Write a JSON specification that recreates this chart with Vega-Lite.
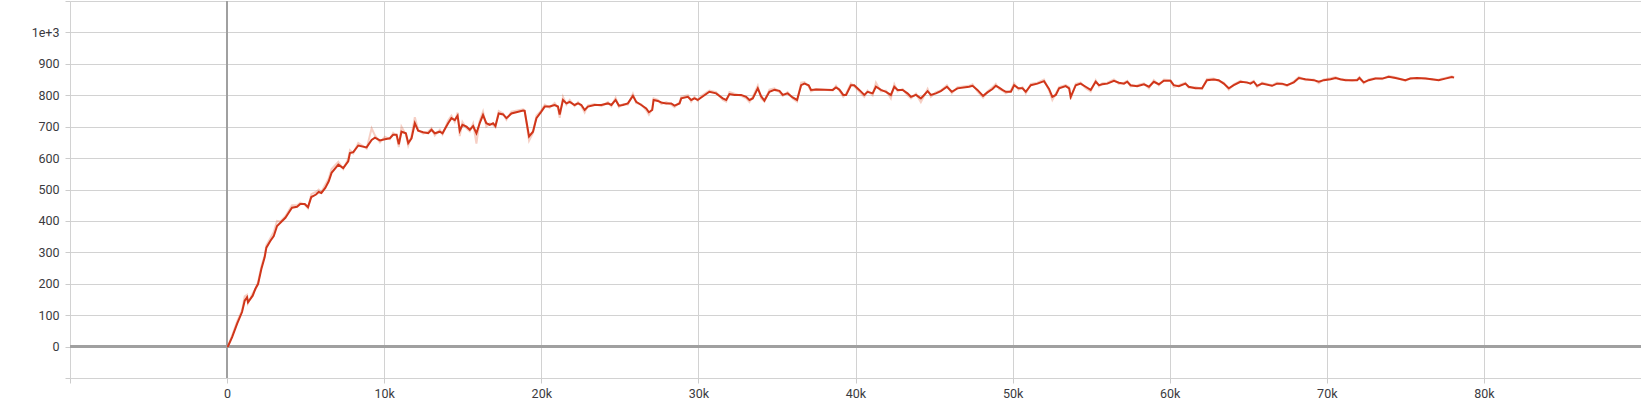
{
  "$schema": "https://vega.github.io/schema/vega-lite/v6.json",
  "width": 1571,
  "height": 377,
  "autosize": {"type": "none"},
  "padding": {"left": 70, "top": 1, "right": 0, "bottom": 22},
  "background": "white",
  "config": {
    "view": {"stroke": null},
    "axis": {
      "labelFont": "Roboto",
      "labelFontSize": 12.5,
      "labelColor": "#3a3a40",
      "gridColor": "#d2d2d2",
      "gridWidth": 1,
      "tickColor": "#cccccc",
      "tickSize": 5,
      "domain": false,
      "title": null,
      "labelOverlap": false,
      "labelFlush": false
    }
  },
  "data": {
    "values": [
      {"step": 0, "value": 0, "raw": 0},
      {"step": 60, "value": 1, "raw": 3},
      {"step": 320, "value": 30, "raw": 35},
      {"step": 640, "value": 73, "raw": 80},
      {"step": 950, "value": 110, "raw": 115},
      {"step": 1120, "value": 146, "raw": 160},
      {"step": 1270, "value": 157, "raw": 165},
      {"step": 1330, "value": 141, "raw": 138},
      {"step": 1630, "value": 162, "raw": 170},
      {"step": 1800, "value": 184, "raw": 182},
      {"step": 1970, "value": 199, "raw": 205},
      {"step": 2180, "value": 247, "raw": 255},
      {"step": 2390, "value": 284, "raw": 290},
      {"step": 2500, "value": 315, "raw": 322},
      {"step": 2750, "value": 336, "raw": 345},
      {"step": 2970, "value": 352, "raw": 365},
      {"step": 3180, "value": 384, "raw": 400},
      {"step": 3390, "value": 394, "raw": 398},
      {"step": 3710, "value": 410, "raw": 415},
      {"step": 3920, "value": 426, "raw": 432},
      {"step": 4130, "value": 442, "raw": 450},
      {"step": 4450, "value": 445, "raw": 450},
      {"step": 4660, "value": 454, "raw": 458},
      {"step": 4940, "value": 454, "raw": 452},
      {"step": 5150, "value": 444, "raw": 440},
      {"step": 5360, "value": 476, "raw": 485},
      {"step": 5660, "value": 484, "raw": 492},
      {"step": 5830, "value": 492, "raw": 500},
      {"step": 6000, "value": 489, "raw": 492},
      {"step": 6250, "value": 505, "raw": 515},
      {"step": 6470, "value": 526, "raw": 535},
      {"step": 6650, "value": 553, "raw": 565},
      {"step": 7080, "value": 579, "raw": 588},
      {"step": 7390, "value": 568, "raw": 565},
      {"step": 7710, "value": 590, "raw": 598},
      {"step": 7820, "value": 616, "raw": 625},
      {"step": 8030, "value": 619, "raw": 615},
      {"step": 8350, "value": 640, "raw": 648},
      {"step": 8880, "value": 634, "raw": 630},
      {"step": 9200, "value": 658, "raw": 695},
      {"step": 9410, "value": 665, "raw": 672},
      {"step": 9730, "value": 656, "raw": 650},
      {"step": 10040, "value": 660, "raw": 668},
      {"step": 10360, "value": 663, "raw": 660},
      {"step": 10570, "value": 674, "raw": 680},
      {"step": 10790, "value": 674, "raw": 670},
      {"step": 10930, "value": 644, "raw": 635},
      {"step": 11100, "value": 684, "raw": 700},
      {"step": 11380, "value": 679, "raw": 675},
      {"step": 11530, "value": 648, "raw": 640},
      {"step": 11740, "value": 663, "raw": 670},
      {"step": 11950, "value": 711, "raw": 730},
      {"step": 12160, "value": 687, "raw": 690},
      {"step": 12480, "value": 682, "raw": 678},
      {"step": 12800, "value": 679, "raw": 685},
      {"step": 13010, "value": 690, "raw": 695},
      {"step": 13220, "value": 679, "raw": 672},
      {"step": 13540, "value": 684, "raw": 690},
      {"step": 13710, "value": 679, "raw": 675},
      {"step": 14070, "value": 711, "raw": 720},
      {"step": 14280, "value": 727, "raw": 735},
      {"step": 14490, "value": 721, "raw": 715},
      {"step": 14670, "value": 735, "raw": 745},
      {"step": 14810, "value": 687, "raw": 670},
      {"step": 14980, "value": 706, "raw": 715},
      {"step": 15240, "value": 700, "raw": 695},
      {"step": 15450, "value": 690, "raw": 685},
      {"step": 15660, "value": 702, "raw": 710},
      {"step": 15870, "value": 679, "raw": 646},
      {"step": 16080, "value": 711, "raw": 720},
      {"step": 16290, "value": 737, "raw": 748},
      {"step": 16500, "value": 711, "raw": 700},
      {"step": 16720, "value": 706, "raw": 710},
      {"step": 16930, "value": 711, "raw": 705},
      {"step": 17080, "value": 702, "raw": 698},
      {"step": 17290, "value": 742, "raw": 750},
      {"step": 17570, "value": 739, "raw": 742},
      {"step": 17780, "value": 727, "raw": 722},
      {"step": 18100, "value": 742, "raw": 748},
      {"step": 18840, "value": 751, "raw": 755},
      {"step": 18940, "value": 750, "raw": 752},
      {"step": 19220, "value": 669, "raw": 655},
      {"step": 19470, "value": 684, "raw": 680},
      {"step": 19690, "value": 727, "raw": 735},
      {"step": 20000, "value": 748, "raw": 752},
      {"step": 20220, "value": 764, "raw": 770},
      {"step": 20530, "value": 764, "raw": 760},
      {"step": 20850, "value": 769, "raw": 775},
      {"step": 21060, "value": 764, "raw": 760},
      {"step": 21170, "value": 739, "raw": 728},
      {"step": 21380, "value": 785, "raw": 795},
      {"step": 21600, "value": 774, "raw": 770},
      {"step": 21810, "value": 779, "raw": 785},
      {"step": 22120, "value": 769, "raw": 765},
      {"step": 22340, "value": 774, "raw": 778},
      {"step": 22550, "value": 769, "raw": 765},
      {"step": 22760, "value": 753, "raw": 745},
      {"step": 22970, "value": 764, "raw": 768},
      {"step": 23390, "value": 769, "raw": 772},
      {"step": 23820, "value": 769, "raw": 765},
      {"step": 24240, "value": 774, "raw": 778},
      {"step": 24460, "value": 769, "raw": 765},
      {"step": 24730, "value": 785, "raw": 792},
      {"step": 24940, "value": 767, "raw": 762},
      {"step": 25190, "value": 769, "raw": 772},
      {"step": 25510, "value": 774, "raw": 770},
      {"step": 25830, "value": 798, "raw": 805},
      {"step": 26040, "value": 779, "raw": 775},
      {"step": 26360, "value": 769, "raw": 772},
      {"step": 26680, "value": 758, "raw": 752},
      {"step": 26850, "value": 746, "raw": 738},
      {"step": 27060, "value": 753, "raw": 758},
      {"step": 27150, "value": 785, "raw": 790},
      {"step": 27420, "value": 782, "raw": 785},
      {"step": 27640, "value": 777, "raw": 772},
      {"step": 27950, "value": 774, "raw": 778},
      {"step": 28270, "value": 774, "raw": 770},
      {"step": 28480, "value": 767, "raw": 762},
      {"step": 28800, "value": 774, "raw": 778},
      {"step": 28910, "value": 790, "raw": 795},
      {"step": 29330, "value": 795, "raw": 800},
      {"step": 29540, "value": 785, "raw": 780},
      {"step": 29750, "value": 790, "raw": 795},
      {"step": 29960, "value": 785, "raw": 782},
      {"step": 30180, "value": 793, "raw": 798},
      {"step": 30700, "value": 811, "raw": 815},
      {"step": 31130, "value": 806, "raw": 810},
      {"step": 31550, "value": 790, "raw": 785},
      {"step": 31770, "value": 785, "raw": 780},
      {"step": 31980, "value": 804, "raw": 810},
      {"step": 32300, "value": 801, "raw": 805},
      {"step": 32720, "value": 801, "raw": 798},
      {"step": 33040, "value": 795, "raw": 790},
      {"step": 33250, "value": 785, "raw": 778},
      {"step": 33460, "value": 790, "raw": 795},
      {"step": 33780, "value": 822, "raw": 830},
      {"step": 33990, "value": 797, "raw": 790},
      {"step": 34200, "value": 783, "raw": 780},
      {"step": 34520, "value": 811, "raw": 818},
      {"step": 34840, "value": 817, "raw": 822},
      {"step": 35160, "value": 814, "raw": 810},
      {"step": 35370, "value": 801, "raw": 798},
      {"step": 35680, "value": 806, "raw": 810},
      {"step": 36000, "value": 793, "raw": 790},
      {"step": 36280, "value": 785, "raw": 780},
      {"step": 36540, "value": 832, "raw": 840},
      {"step": 36750, "value": 837, "raw": 842},
      {"step": 37020, "value": 832, "raw": 828},
      {"step": 37170, "value": 817, "raw": 812},
      {"step": 37490, "value": 818, "raw": 820},
      {"step": 38550, "value": 817, "raw": 815},
      {"step": 38760, "value": 825, "raw": 830},
      {"step": 38970, "value": 818, "raw": 815},
      {"step": 39220, "value": 801, "raw": 795},
      {"step": 39400, "value": 801, "raw": 805},
      {"step": 39710, "value": 832, "raw": 838},
      {"step": 39920, "value": 832, "raw": 828},
      {"step": 40240, "value": 817, "raw": 812},
      {"step": 40560, "value": 801, "raw": 795},
      {"step": 40770, "value": 811, "raw": 815},
      {"step": 41090, "value": 806, "raw": 800},
      {"step": 41300, "value": 827, "raw": 840},
      {"step": 41620, "value": 817, "raw": 812},
      {"step": 41940, "value": 811, "raw": 815},
      {"step": 42250, "value": 801, "raw": 790},
      {"step": 42470, "value": 827, "raw": 835},
      {"step": 42680, "value": 817, "raw": 812},
      {"step": 43000, "value": 817, "raw": 820},
      {"step": 43310, "value": 806, "raw": 800},
      {"step": 43530, "value": 795, "raw": 790},
      {"step": 43850, "value": 801, "raw": 805},
      {"step": 44160, "value": 790, "raw": 778},
      {"step": 44370, "value": 801, "raw": 798},
      {"step": 44590, "value": 813, "raw": 820},
      {"step": 44800, "value": 801, "raw": 795},
      {"step": 45120, "value": 806, "raw": 810},
      {"step": 45430, "value": 813, "raw": 815},
      {"step": 45820, "value": 827, "raw": 832},
      {"step": 46130, "value": 811, "raw": 806},
      {"step": 46490, "value": 822, "raw": 826},
      {"step": 47230, "value": 827, "raw": 830},
      {"step": 47450, "value": 830, "raw": 835},
      {"step": 47760, "value": 817, "raw": 812},
      {"step": 48120, "value": 798, "raw": 792},
      {"step": 48400, "value": 809, "raw": 812},
      {"step": 48720, "value": 820, "raw": 825},
      {"step": 48930, "value": 830, "raw": 836},
      {"step": 49140, "value": 824, "raw": 820},
      {"step": 49350, "value": 817, "raw": 815},
      {"step": 49570, "value": 811, "raw": 806},
      {"step": 49890, "value": 811, "raw": 815},
      {"step": 50100, "value": 832, "raw": 838},
      {"step": 50370, "value": 822, "raw": 818},
      {"step": 50630, "value": 822, "raw": 826},
      {"step": 50840, "value": 811, "raw": 806},
      {"step": 51160, "value": 832, "raw": 836},
      {"step": 51580, "value": 837, "raw": 840},
      {"step": 52000, "value": 845, "raw": 850},
      {"step": 52320, "value": 820, "raw": 815},
      {"step": 52530, "value": 795, "raw": 785},
      {"step": 52750, "value": 801, "raw": 805},
      {"step": 52960, "value": 822, "raw": 826},
      {"step": 53380, "value": 829, "raw": 832},
      {"step": 53600, "value": 822, "raw": 826},
      {"step": 53700, "value": 795, "raw": 788},
      {"step": 54020, "value": 832, "raw": 836},
      {"step": 54330, "value": 837, "raw": 840},
      {"step": 54650, "value": 827, "raw": 822},
      {"step": 54970, "value": 817, "raw": 812},
      {"step": 55290, "value": 843, "raw": 848},
      {"step": 55500, "value": 832, "raw": 828},
      {"step": 55710, "value": 835, "raw": 838},
      {"step": 56030, "value": 837, "raw": 840},
      {"step": 56450, "value": 846, "raw": 850},
      {"step": 56770, "value": 840, "raw": 836},
      {"step": 57090, "value": 837, "raw": 840},
      {"step": 57300, "value": 843, "raw": 846},
      {"step": 57510, "value": 832, "raw": 828},
      {"step": 57930, "value": 829, "raw": 832},
      {"step": 58360, "value": 835, "raw": 838},
      {"step": 58680, "value": 827, "raw": 822},
      {"step": 58990, "value": 843, "raw": 848},
      {"step": 59310, "value": 835, "raw": 832},
      {"step": 59630, "value": 846, "raw": 850},
      {"step": 60050, "value": 846, "raw": 848},
      {"step": 60260, "value": 832, "raw": 826},
      {"step": 60580, "value": 829, "raw": 832},
      {"step": 61000, "value": 837, "raw": 840},
      {"step": 61210, "value": 827, "raw": 824},
      {"step": 61640, "value": 822, "raw": 826},
      {"step": 62060, "value": 822, "raw": 820},
      {"step": 62370, "value": 848, "raw": 852},
      {"step": 62800, "value": 850, "raw": 853},
      {"step": 63120, "value": 848, "raw": 845},
      {"step": 63440, "value": 837, "raw": 840},
      {"step": 63760, "value": 822, "raw": 818},
      {"step": 64080, "value": 832, "raw": 835},
      {"step": 64500, "value": 843, "raw": 846},
      {"step": 64920, "value": 841, "raw": 838},
      {"step": 65140, "value": 837, "raw": 840},
      {"step": 65350, "value": 843, "raw": 846},
      {"step": 65560, "value": 830, "raw": 826},
      {"step": 65880, "value": 837, "raw": 840},
      {"step": 66520, "value": 830, "raw": 832},
      {"step": 66830, "value": 837, "raw": 840},
      {"step": 67150, "value": 837, "raw": 835},
      {"step": 67470, "value": 832, "raw": 830},
      {"step": 67900, "value": 841, "raw": 844},
      {"step": 68220, "value": 855, "raw": 858},
      {"step": 68640, "value": 851, "raw": 848},
      {"step": 69170, "value": 848, "raw": 850},
      {"step": 69490, "value": 843, "raw": 838},
      {"step": 69810, "value": 848, "raw": 850},
      {"step": 70240, "value": 851, "raw": 854},
      {"step": 70560, "value": 855, "raw": 858},
      {"step": 70870, "value": 851, "raw": 849},
      {"step": 71190, "value": 848, "raw": 850},
      {"step": 71610, "value": 848, "raw": 846},
      {"step": 71930, "value": 848, "raw": 850},
      {"step": 72080, "value": 855, "raw": 858},
      {"step": 72350, "value": 841, "raw": 838},
      {"step": 72670, "value": 848, "raw": 850},
      {"step": 73100, "value": 853, "raw": 855},
      {"step": 73520, "value": 853, "raw": 851},
      {"step": 73940, "value": 859, "raw": 861},
      {"step": 74370, "value": 855, "raw": 857},
      {"step": 75000, "value": 848, "raw": 846},
      {"step": 75320, "value": 853, "raw": 855},
      {"step": 75740, "value": 855, "raw": 853},
      {"step": 76270, "value": 853, "raw": 855},
      {"step": 76700, "value": 851, "raw": 849},
      {"step": 77120, "value": 848, "raw": 850},
      {"step": 77540, "value": 853, "raw": 855},
      {"step": 77960, "value": 858, "raw": 860},
      {"step": 78100, "value": 856, "raw": 857}
    ]
  },
  "encoding": {
    "x": {
      "field": "step", "type": "quantitative",
      "scale": {"domain": [-10000, 90000], "nice": false, "zero": false},
      "axis": {
        "values": [-10000, 0, 10000, 20000, 30000, 40000, 50000, 60000, 70000, 80000, 90000],
        "labelExpr": "datum.value < 0 || datum.value > 85000 ? '' : (datum.value == 0 ? '0' : (datum.value / 1000) + 'k')",
        "labelPadding": 4
      }
    },
    "y": {
      "field": "value", "type": "quantitative",
      "scale": {"domain": [-100, 1100], "nice": false, "zero": false},
      "axis": {
        "values": [-100, 0, 100, 200, 300, 400, 500, 600, 700, 800, 900, 1000, 1100],
        "labelExpr": "datum.value < 0 || datum.value > 1050 ? '' : (datum.value == 1000 ? '1e+3' : format(datum.value, 'd'))",
        "labelPadding": 6
      }
    }
  },
  "layer": [
    {
      "mark": {"type": "line", "color": "#e0603a", "strokeWidth": 2, "opacity": 0.3, "interpolate": "linear"},
      "encoding": {
        "y": {"field": "raw", "type": "quantitative"}
      }
    },
    {
      "mark": {"type": "rule", "color": "#a0a0a0", "strokeWidth": 1.5},
      "encoding": {"x": {"datum": 0, "type": "quantitative"}, "y": null}
    },
    {
      "mark": {"type": "rule", "color": "#a0a0a0", "strokeWidth": 1.5},
      "encoding": {"y": {"datum": 0, "type": "quantitative"}, "x": null}
    },
    {
      "mark": {"type": "line", "color": "#d0361a", "strokeWidth": 2, "interpolate": "linear"},
      "encoding": {}
    }
  ]
}
